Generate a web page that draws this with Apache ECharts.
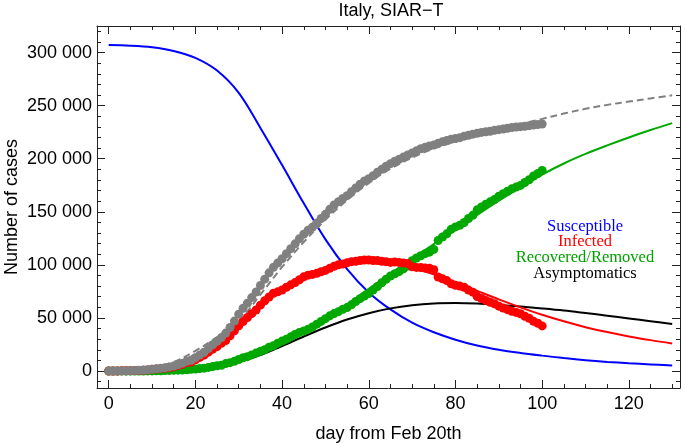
<!DOCTYPE html>
<html><head><meta charset="utf-8">
<script src="https://cdn.jsdelivr.net/npm/echarts@6/dist/echarts.min.js"></script>
<style>html,body{margin:0;padding:0;background:#fff}#c{width:685px;height:444px}</style>
</head><body><div id="c"></div>
<script>
// ---- data (days from Feb 20th) ----
const days = [0,1,2,3,4,5,6,7,8,9,10,11,12,13,14,15,16,17,18,19,20,21,22,23,24,25,26,27,28,29,30,31,32,33,34,35,36,37,38,39,40,41,42,43,44,45,46,47,48,49,50,51,52,53,54,55,56,57,58,59,60,61,62,63,64,65,66,67,68,69,70,71,72,73,74,75,76,77,78,79,80,81,82,83,84,85,86,87,88,89,90,91,92,93,94,95,96,97,98,99,100];
const totalCases = [3,20,62,155,229,322,400,650,888,1128,1694,2036,2502,3089,3858,4636,5883,7375,9172,10149,12462,15113,17660,21157,24747,27980,31506,35713,41035,47021,53578,59138,63927,69176,74386,80589,86498,92472,97689,101739,105792,110574,115242,119827,124632,128948,132547,135586,139422,143626,147577,152271,156363,159516,162488,165155,168941,172434,175925,178972,181228,183957,187327,189973,192994,195351,197675,199414,201505,203591,205463,207428,209328,210717,211938,213013,214457,215858,217185,218268,219070,219814,221216,222104,223096,223885,224760,225435,225886,226699,227364,228006,228658,229327,229858,230158,230555,231139,231732,232248,232664];
const infectedData = [3,19,59,150,221,311,385,588,821,1049,1577,1835,2263,2706,3296,3916,5061,6387,7985,8514,10590,12839,14955,17750,20603,23073,26062,28710,33190,37860,42681,46638,50418,54030,57521,62013,66200,69700,73200,74600,76300,78900,81200,83300,86000,88700,90300,91000,92000,93500,94800,96700,98700,100100,100800,101900,103000,103300,104100,104600,104600,104100,104100,103300,103000,102300,102600,102300,101700,101200,98200,97600,97400,97000,96800,95400,88600,86800,85200,82200,80800,80000,78900,76200,74300,70100,68300,66500,64800,63400,61100,59400,57800,56300,55200,53900,51600,49700,46800,45000,42500];
const removedData = [0,1,3,5,8,11,15,62,67,79,117,201,239,383,562,720,822,988,1187,1635,1872,2274,2705,3407,4144,4907,5444,7003,7845,9161,10897,12500,13509,15146,16865,18526,20084,22407,23809,26211,28157,30002,32193,34439,36358,37702,39360,41519,44160,46749,49304,52002,54110,55900,58197,59737,62334,65472,68154,70715,72991,76248,79628,83125,86467,89504,91572,93601,96300,98934,103912,106485,108624,110538,111958,114546,122929,126234,129224,133426,135746,137326,139950,143647,146656,151815,154573,157084,159333,161570,164612,167046,169336,171575,173264,174858,177613,180173,183746,186073,188973];

// model curves (read at 5-day steps)
const modelDays = [0,5,10,15,20,25,30,35,40,45,50,55,60,65,70,75,80,85,90,95,100,105,110,115,120,125,130];
const susceptibleModel = [307000,306500,305000,301500,295000,283000,262000,229000,194000,158000,124000,96000,74000,58000,45500,36500,29500,24000,20000,17000,14500,12200,10200,8600,7300,6200,5200];
const infectedModel = [200,900,2600,6800,15500,28000,43000,60500,77000,89000,97000,101500,103000,101500,97500,91000,83500,75500,67500,60000,53000,46800,41300,36700,32600,29100,26000];
const removedModel = [0,100,400,1200,2800,5500,10000,17000,26500,37500,50000,63000,77500,91500,105500,119500,133000,147000,160500,173000,185000,195500,204500,212500,220000,227000,233500];
const asymptomaticModel = [0,20,150,600,1800,4200,8500,15000,23500,32500,41000,48500,54500,59000,62000,63600,64000,63500,62300,60800,59000,57000,54600,52100,49500,46900,44300];
const totalModel = [200,1000,3000,8500,19000,32000,47000,72000,98000,121500,142500,161000,177000,190500,201000,209500,216000,222000,227500,232500,237500,242500,247000,250700,253800,256800,259700];

const xMajor = [0,20,40,60,80,100,120];
const xMinor = [5,10,15,25,30,35,45,50,55,65,70,75,85,90,95,105,110,115,125,130];
const yMajor = [0,50000,100000,150000,200000,250000,300000];
const yMinor = [-10000,10000,20000,30000,40000,60000,70000,80000,90000,110000,120000,130000,140000,160000,170000,180000,190000,210000,220000,230000,240000,260000,270000,280000,290000,310000,320000];
const legendLabels = ['Susceptible','Infected','Recovered/Removed','Asymptomatics'];
const titleText = 'Italy, SIAR\u2212T';

// ---- chart ----
const XMIN = -2.7, XMAX = 131.8, YMIN = -16000, YMAX = 325000;
const SANS = '"Liberation Sans", Arial, sans-serif';
const SERIF = '"Liberation Serif", "Times New Roman", serif';
const AX = '#222';
const TXT = '#000';
const colors = {blue:'#0000ff', red:'#ff0000', green:'#00a800', black:'#000000', gray:'#808080'};
const legendColors = ['#0000ff','#ff0000','#00a000','#000000'];

function pairs(xs, ys){ return xs.map((x,i)=>[x, ys[i]]); }
function fmt(v){ return v === 0 ? '0' : String(v).replace(/\B(?=(\d{3})+(?!\d))/g, ' '); }

function xAx(pos, vals, len, showLine, labels){
  return {type:'value', min:XMIN, max:XMAX, position:pos, gridIndex:0,
    axisLine:{show:showLine, onZero:false, lineStyle:{color:AX, width:1}},
    axisTick:{show:true, inside:true, length:len, customValues:vals, lineStyle:{color:AX, width:1}},
    axisLabel:{show:labels, customValues:vals, fontSize:18, color:TXT, fontFamily:SANS, margin:7},
    splitLine:{show:false}};
}
function yAx(pos, vals, len, showLine, labels){
  return {type:'value', min:YMIN, max:YMAX, position:pos, gridIndex:0,
    axisLine:{show:showLine, onZero:false, lineStyle:{color:AX, width:1}},
    axisTick:{show:true, inside:true, length:len, customValues:vals, lineStyle:{color:AX, width:1}},
    axisLabel:{show:labels, customValues:vals, fontSize:18, color:TXT, fontFamily:SANS, margin:5, formatter:fmt},
    splitLine:{show:false}};
}

const xAxes = [xAx('bottom', xMajor, 8, true, true), xAx('bottom', xMinor, 4, false, false),
               xAx('top', xMajor, 8, true, false), xAx('top', xMinor, 4, false, false)];
Object.assign(xAxes[0], {name:'day from Feb 20th', nameLocation:'middle', nameGap:37, nameMoveOverlap:false,
  nameTextStyle:{fontSize:18, color:TXT, fontFamily:SANS}});
const yAxes = [yAx('left', yMajor, 8, true, true), yAx('left', yMinor, 4, false, false),
               yAx('right', yMajor, 8, true, false), yAx('right', yMinor, 4, false, false)];
Object.assign(yAxes[0], {name:'Number of cases', nameLocation:'middle', nameGap:76, nameMoveOverlap:false,
  nameTextStyle:{fontSize:18, color:TXT, fontFamily:SANS}});

function line(data, color, extra){
  return Object.assign({type:'line', data:pairs(modelDays, data), showSymbol:false, smooth:0.35,
    lineStyle:{color:color, width:2}, itemStyle:{color:color}, z:2, silent:true, animation:false}, extra||{});
}
function dots(data, color){
  return {type:'scatter', data:pairs(days, data), symbol:'circle', symbolSize:9,
    itemStyle:{color:color, opacity:1}, z:3, silent:true, animation:false};
}

const legendY = [226.5, 242, 258, 273.5];
const graphic = [{type:'text', x:391, y:11, style:{text:titleText, fill:TXT, font:'18px ' + SANS, textAlign:'center', textVerticalAlign:'middle'}}]
  .concat(legendLabels.map((t,i)=>({type:'text', x:585, y:legendY[i],
    style:{text:t, fill:legendColors[i], font:'16.5px ' + SERIF, textAlign:'center', textVerticalAlign:'middle'}})));

const chart = echarts.init(document.getElementById('c'), null, {renderer:'canvas'});
chart.setOption({
  animation:false,
  backgroundColor:'#ffffff',
  grid:{left:97, right:5, top:26, bottom:56, containLabel:false, outerBoundsMode:'none'},
  xAxis:xAxes,
  yAxis:yAxes,
  graphic:graphic,
  series:[
    line(susceptibleModel, colors.blue),
    line(asymptomaticModel, colors.black),
    line(infectedModel, colors.red),
    line(removedModel, colors.green),
    line(totalModel, colors.gray, {lineStyle:{color:colors.gray, width:2, type:[7,4]}}),
    dots(removedData, colors.green),
    dots(infectedData, colors.red),
    dots(totalCases, colors.gray)
  ]
});
</script></body></html>
